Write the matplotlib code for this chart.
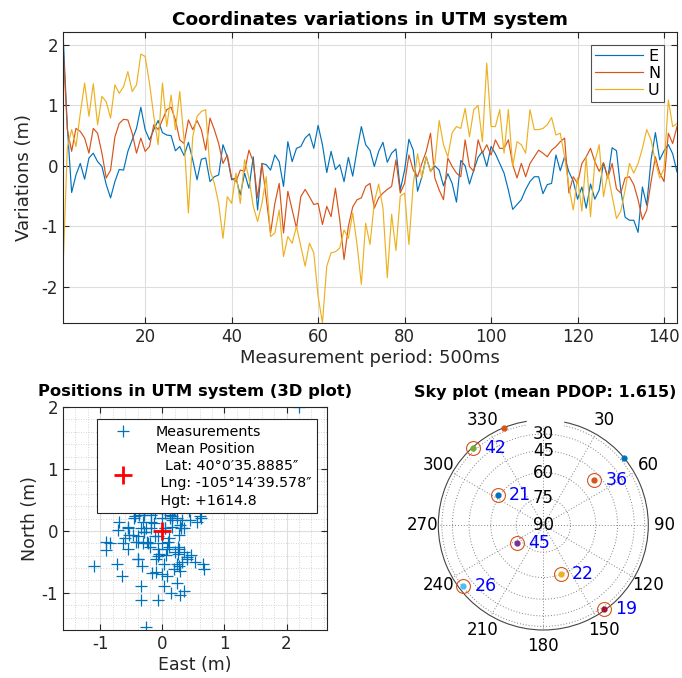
import numpy as np
import matplotlib
matplotlib.use("Agg")
import matplotlib.pyplot as plt
from matplotlib.patches import Rectangle

# ---------------- data ----------------
E = [2.2, 0.65, -0.44, -0.15, 0.04, -0.22, 0.13, 0.21, 0.07, -0.01,
     -0.31, -0.53, -0.26, -0.06, -0.07, 0.24, 0.43, 0.62, 0.97, 0.6,
     0.43, 0.6, 0.75, 0.55, 0.51, 0.5, 0.25, 0.32, 0.17, 0.39,
     0.1, -0.23, 0.11, 0.13, -0.26, -0.18, -0.15, 0.35, 0.15, -0.23,
     -0.2, -0.48, -0.12, -0.37, 0.15, -0.73, 0.04, 0.02, -0.07, 0.18,
     0.07, -0.34, 0.4, 0.07, 0.29, 0.32, 0.46, 0.53, 0.29, 0.67,
     0.35, -0.11, 0.24, -0.06, 0.02, -0.26, 0.14, -0.17, 0.26, 0.65,
     0.35, 0.26, -0.01, 0.24, 0.39, 0.06, 0.21, 0.28, -0.4, -0.07,
     0.44, 0.26, -0.42, -0.18, 0.15, -0.09, 0.0, -0.07, -0.33, -0.13,
     -0.29, -0.6, 0.09, 0.0, -0.3, -0.07, 0.14, 0.24, -0.01, 0.32,
     0.2, 0.04, -0.12, -0.4, -0.72, -0.64, -0.56, -0.39, -0.26, -0.18,
     -0.18, -0.46, -0.31, -0.29, 0.18, -0.08, 0.15, -0.1, -0.25, -0.55,
     -0.35, -0.7, -0.3, -0.55, -0.4, 0.05, -0.2, 0.3, 0.25, -0.4,
     -0.85, -0.9, -0.9, -1.1, -0.35, -0.65, 0.1, 0.55, 0.1, 0.25,
     0.35, 0.2, -0.1]
N = [2.0, 0.6, 0.24, 0.62, 0.57, 0.46, 0.21, 0.62, 0.54, 0.21,
     -0.2, -0.07, 0.48, 0.7, 0.77, 0.76, 0.54, 0.21, 0.46, 0.24,
     0.32, 0.68, 0.6, 0.76, 0.93, 0.97, 0.76, 0.43, 0.37, 0.76,
     0.6, 0.75, 0.6, 0.26, 0.79, 0.6, 0.37, 0.04, 0.18, -0.2,
     -0.26, -0.07, -0.09, 0.26, 0.07, -0.53, 0.04, -0.53, -1.11, -0.62,
     -0.29, -1.11, -0.42, -0.73, -1.03, -0.51, -0.39, -0.51, -0.64, -0.62,
     -0.97, -0.67, -0.84, -0.37, -0.89, -1.55, -1.0, -0.68, -0.56, -0.53,
     -0.34, -0.29, -0.7, -0.53, -0.45, -0.39, -0.34, 0.1, -0.45, -0.29,
     0.18, -0.07, -0.18, 0.04, 0.24, 0.54, -0.2, -0.4, -0.56, 0.13,
     -0.01, -0.12, -0.18, 0.43, -0.01, -0.09, 0.43, 0.21, 0.35, 0.18,
     0.43, 0.29, 0.29, 0.43, 0.02, -0.2, 0.04, -0.18, 0.04, 0.15,
     0.26, 0.21, 0.15, 0.26, 0.32, 0.4, 0.46, -0.45, -0.18, -0.29,
     0.04, 0.15, 0.29, 0.07, -0.09, 0.05, -0.2, 0.04, -0.38, -0.45,
     -0.2, -0.18, -0.31, -0.56, -0.89, -0.73, -0.26, 0.15, -0.12, -0.26,
     0.54, 0.37, 0.65]
U = [-1.72, 0.3, 0.6, 0.32, 0.87, 1.37, 0.82, 1.36, 0.68, 1.15,
     1.06, 0.79, 1.34, 1.2, 1.31, 1.56, 1.23, 1.34, 1.85, 1.81,
     1.37, 0.82, 0.35, 1.37, 0.65, 1.17, 0.6, 1.23, 0.43, -0.78,
     0.48, 0.82, 0.9, 0.93, -0.07, -0.29, -0.62, -1.2, -0.51, -0.62,
     -0.12, -0.62, 0.1, -0.2, -0.67, -0.92, -0.62, -0.18, -1.17, -1.11,
     -0.73, -1.5, -1.17, -1.28, -1.0, -1.33, -1.66, -1.28, -1.44, -2.16,
     -2.6, -1.66, -1.44, -1.42, -1.36, -1.06, -1.2, -0.78, -1.3, -1.96,
     -0.95, -1.3, -0.6, -0.3, -0.7, -1.85, -0.8, -1.4, -0.5, -0.45,
     -1.3, -0.3, 0.2, -0.2, 0.15, -0.1, 0.05, 0.75, 0.35, 0.15,
     0.55, 0.65, 0.62, 0.95, 0.48, 0.93, 1.0, 0.4, 1.7, 0.65,
     0.65, 0.93, 0.21, 0.93, -0.01, 0.4, 0.35, 0.21, 0.93, 0.6,
     0.6, 0.62, 0.68, 0.8, 0.51, 0.54, 0.15, -0.34, -0.73, -0.2,
     -0.75, 0.15, -0.84, 0.07, 0.35, -0.51, -0.12, -0.5, -0.87, -0.75,
     -0.4, 0.04, -0.12, 0.04, 0.29, 0.6, 0.43, 0.07, -0.2, -0.05,
     1.09, 0.65, 0.7]
series_names = ["E", "N", "U"]
xticks_top = [20, 40, 60, 80, 100, 120, 140]
yticks_top = [-2, -1, 0, 1, 2]

mean_position = [0.0, 0.0]
mean_label = ("Mean Position\n  Lat: 40\u00b00\u203235.8885\u2033\n"
              " Lng: -105\u00b014\u203239.578\u2033\n Hgt: +1614.8")

sat_prn = [42, 21, 36, 45, 22, 26, 19]
sat_az = [317.6, 303.3, 48.6, 236.4, 160.4, 232.7, 144.2]
sat_el = [4.0, 58.7, 49.6, 72.3, 60.3, 16.7, 8.4]
sat_colors = ["#77AC30", "#0072BD", "#D95319", "#7E2F8E", "#EDB120", "#4DBEEE", "#A2142F"]
extra_az = [337.9, 50.3]
extra_el = [0.0, 0.0]
extra_colors = ["#D95319", "#0072BD"]
elev_rings = [75, 60, 45, 30, 15]
elev_labels = [90, 75, 60, 45, 30]
az_ticks = list(range(0, 360, 30))
pdop = 1.615

# ---------------- style ----------------
plt.rcParams["font.family"] = ["DejaVu Sans"]
plt.rcParams["axes.unicode_minus"] = False
TXT = "#262626"
GRID = "#dedede"
colors = ["#0072BD", "#D95319", "#EDB120"]
W, H = 682, 678

fig = plt.figure(figsize=(W / 100, H / 100), dpi=100)


def rect(l, r, t, b):
    return [l / W, 1 - b / H, (r - l) / W, (b - t) / H]


def style_axes(ax):
    for s in ax.spines.values():
        s.set_color(TXT)
        s.set_linewidth(0.8)
    ax.tick_params(direction="in", top=True, right=True, length=4,
                   colors=TXT, labelsize=12, width=0.8)


# ---------------- top: time series ----------------
ax1 = fig.add_axes(rect(63, 677, 32, 323))
x = np.arange(1, len(E) + 1)
for vals, name, c in zip([E, N, U], series_names, colors):
    ax1.plot(x, vals, color=c, lw=0.85, label=name)
allv = np.concatenate([E, N, U])
ax1.set_xlim(1, len(E))
ax1.set_ylim(allv.min(), allv.max() + 0.015)
ax1.set_xticks(xticks_top)
ax1.set_yticks(yticks_top)
ax1.grid(True, color=GRID, lw=0.8)
style_axes(ax1)
ax1.set_title("Coordinates variations in UTM system", fontsize=13.3,
              fontweight="bold", pad=5)
ax1.set_xlabel("Measurement period: 500ms", fontsize=13, color=TXT, labelpad=2)
ax1.set_ylabel("Variations (m)", fontsize=13, color=TXT, labelpad=6)
leg1 = ax1.legend(loc="upper right", fontsize=11.5, fancybox=False,
                  edgecolor=TXT, handlelength=3.0, borderaxespad=0.8,
                  labelspacing=0.12, borderpad=0.25, handletextpad=0.35)
leg1.get_frame().set_linewidth(0.8)

# ---------------- bottom left: scatter ----------------
ax2 = fig.add_axes(rect(63, 327, 407, 630))
ax2.plot(E, N, "+", color="#0072BD", ms=8, mew=0.9, ls="none", label="Measurements")
ax2.plot([mean_position[0]], [mean_position[1]], "+", color="red", ms=13, mew=2,
         ls="none", label=mean_label)
nmin, nmax = min(N), max(N)
emin, emax = min(E), max(E)
yspan = nmax - nmin
xspan = yspan * (327 - 63) / (630 - 407)
xc = (emin + emax) / 2
ax2.set_ylim(nmin, nmax)
ax2.set_xlim(xc - xspan / 2, xc + xspan / 2)
ax2.set_xticks([-1, 0, 1, 2])
ax2.set_yticks([-1, 0, 1, 2])
ax2.set_xticks(np.arange(-1.6, 2.7, 0.2), minor=True)
ax2.set_yticks(np.arange(-1.6, 2.1, 0.2), minor=True)
ax2.grid(True, which="major", color=GRID, lw=0.8)
ax2.grid(True, which="minor", color="#c8c8c8", lw=0.6, ls=(0, (1, 2)))
style_axes(ax2)
ax2.tick_params(which="minor", length=0)
ax2.set_title("Positions in UTM system (3D plot)", fontsize=11.8,
              fontweight="bold", pad=8)
ax2.set_xlabel("East (m)", fontsize=12.5, color=TXT, labelpad=2)
ax2.set_ylabel("North (m)", fontsize=12.5, color=TXT, labelpad=2)
leg2 = ax2.legend(loc="upper left", bbox_to_anchor=(0.129, 0.945), fontsize=10.3,
                  fancybox=False, edgecolor=TXT, framealpha=1,
                  handlelength=2.8, handletextpad=0.9, borderaxespad=0,
                  labelspacing=0.2, borderpad=0.4)
leg2.get_frame().set_linewidth(0.8)
for t in leg2.get_texts():
    t.set_linespacing(1.3)

# ---------------- bottom right: sky plot ----------------
cx, cy, R = 543.3, 525, 105
ax3 = fig.add_axes(rect(cx - R, cx + R, cy - R, cy + R), projection="polar")
ax3.set_theta_zero_location("N")
ax3.set_theta_direction(-1)
ax3.set_ylim(0, 1)
ax3.set_yticks(np.cos(np.radians(elev_rings)))
ax3.set_yticklabels([])
ax3.set_xticks(np.radians(az_ticks))
ax3.set_xticklabels(["" if a == 0 else str(a) for a in az_ticks], fontsize=12)
ax3.tick_params(axis="x", pad=1)
ax3.grid(True, color="#808080", lw=0.7, ls=(0, (1, 2)))
ax3.spines["polar"].set_color("#444444")
ax3.spines["polar"].set_linewidth(0.8)
ax3.set_facecolor("white")
for el in elev_labels:
    ax3.text(0, np.cos(np.radians(el)), str(el), ha="center", va="center",
             fontsize=12, color="black", zorder=3)
for a, e, c in zip(extra_az, extra_el, extra_colors):
    ax3.plot(np.radians(a), np.cos(np.radians(e)), "o", color=c, ms=3.5,
             clip_on=False, zorder=4)
for p, a, e, c in zip(sat_prn, sat_az, sat_el, sat_colors):
    th, r = np.radians(a), np.cos(np.radians(e))
    ax3.plot(th, r, "o", color=c, ms=3.5, clip_on=False, zorder=4)
    ax3.plot(th, r, "o", mfc="none", mec="#D95319", ms=10, mew=0.8,
             clip_on=False, zorder=4)
    ax3.annotate(str(p), (th, r), xytext=(8, 0), textcoords="offset points",
                 color="blue", fontsize=12.5, va="center", ha="left", zorder=5)

fig.text(545 / W, 1 - 393 / H, f"Sky plot (mean PDOP: {pdop})", ha="center",
         va="center", fontsize=11.5, fontweight="bold")
fig.add_artist(Rectangle((527 / W, 1 - 425 / H), 36 / W, 20 / H,
                         transform=fig.transFigure, color="white", zorder=10))

fig.savefig("out.png", dpi=100)
